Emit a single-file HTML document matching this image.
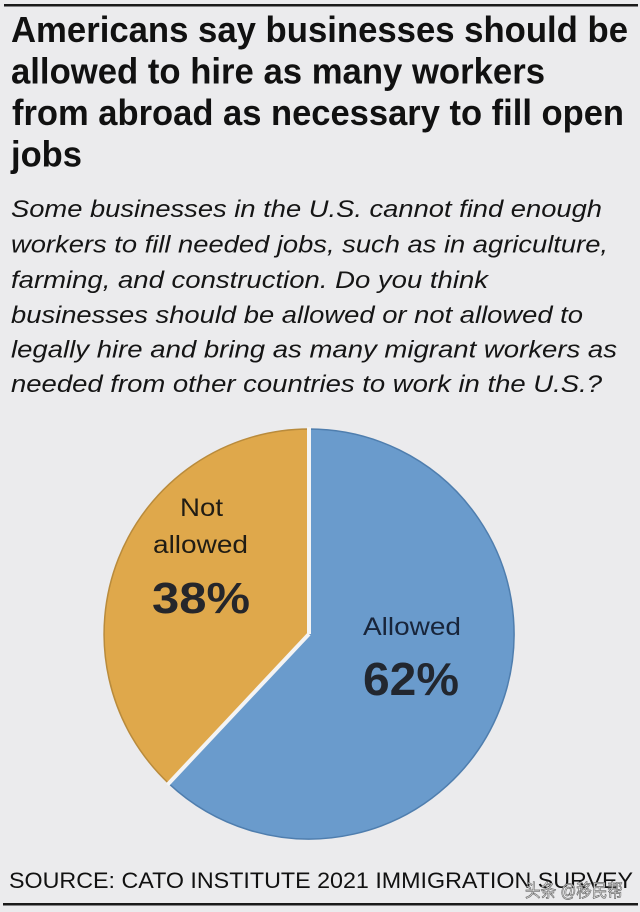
<!DOCTYPE html>
<html>
<head>
<meta charset="utf-8">
<style>
  html, body { margin:0; padding:0; background:#ebebed; }
  svg { display:block; }
</style>
</head>
<body>
<svg width="640" height="912" viewBox="0 0 640 912" xmlns="http://www.w3.org/2000/svg">
  <rect x="0" y="0" width="640" height="912" fill="#ebebed"/>
  <!-- top rule -->
  <rect x="4" y="4" width="634" height="2.5" fill="#1a1a1a"/>

  <!-- Title -->
  <g font-family="'Liberation Sans', Arial, sans-serif" font-weight="bold" font-size="36.5" fill="#111">
    <text x="11" y="42" textLength="617" lengthAdjust="spacingAndGlyphs">Americans say businesses should be</text>
    <text x="11" y="83.5" textLength="534" lengthAdjust="spacingAndGlyphs">allowed to hire as many workers</text>
    <text x="12" y="125" textLength="612" lengthAdjust="spacingAndGlyphs">from abroad as necessary to fill open</text>
    <text x="11" y="166.5" textLength="71" lengthAdjust="spacingAndGlyphs">jobs</text>
  </g>

  <!-- Subtitle -->
  <g font-family="'Liberation Sans', Arial, sans-serif" font-style="italic" font-size="24.5" fill="#151515">
    <text x="11" y="217" textLength="591" lengthAdjust="spacingAndGlyphs">Some businesses in the U.S. cannot find enough</text>
    <text x="11" y="252.5" textLength="597" lengthAdjust="spacingAndGlyphs">workers to fill needed jobs, such as in agriculture,</text>
    <text x="11" y="288" textLength="477" lengthAdjust="spacingAndGlyphs">farming, and construction. Do you think</text>
    <text x="11" y="323" textLength="572" lengthAdjust="spacingAndGlyphs">businesses should be allowed or not allowed to</text>
    <text x="11" y="357.5" textLength="606" lengthAdjust="spacingAndGlyphs">legally hire and bring as many migrant workers as</text>
    <text x="11" y="392" textLength="591" lengthAdjust="spacingAndGlyphs">needed from other countries to work in the U.S.?</text>
  </g>

  <!-- Pie: center (309,634), r=205 -->
  <path d="M309,634 L309,429 A205,205 0 1,1 168.7,783.4 Z" fill="#6a9bcc" stroke="#4f7eae" stroke-width="1.5"/>
  <path d="M309,634 L168.7,783.4 A205,205 0 0,1 309,429 Z" fill="#dfa84b" stroke="#b98b3c" stroke-width="1.5"/>
  <line x1="309" y1="634" x2="309" y2="427" stroke="#f4f4f4" stroke-width="4"/>
  <line x1="309" y1="634" x2="167.5" y2="784.7" stroke="#f4f4f4" stroke-width="4"/>

  <!-- Pie labels -->
  <g font-family="'Liberation Sans', Arial, sans-serif">
    <text x="180" y="516" font-size="25" fill="#201c14" textLength="43" lengthAdjust="spacingAndGlyphs">Not</text>
    <text x="153" y="553" font-size="25" fill="#201c14" textLength="95" lengthAdjust="spacingAndGlyphs">allowed</text>
    <text x="152" y="613" font-size="44" font-weight="bold" fill="#25262b" textLength="98" lengthAdjust="spacingAndGlyphs">38%</text>
    <text x="363" y="635" font-size="25" fill="#18253a" textLength="98" lengthAdjust="spacingAndGlyphs">Allowed</text>
    <text x="363" y="695" font-size="46" font-weight="bold" fill="#22272f" textLength="96" lengthAdjust="spacingAndGlyphs">62%</text>
  </g>

  <!-- Source -->
  <text x="9" y="888" font-family="'Liberation Sans', Arial, sans-serif" font-size="22.6" fill="#111" textLength="624" lengthAdjust="spacingAndGlyphs">SOURCE: CATO INSTITUTE 2021 IMMIGRATION SURVEY</text>

  <!-- watermark -->
  <text x="525" y="897" font-family="'Liberation Sans', 'Noto Sans CJK SC', sans-serif" font-size="18" fill="#f4f4f4" stroke="#6a6a6a" stroke-width="0.7" textLength="98" lengthAdjust="spacingAndGlyphs">头条 @移民帮</text>

  <!-- bottom rule -->
  <rect x="3" y="903" width="635" height="2.5" fill="#1a1a1a"/>
</svg>
</body>
</html>
